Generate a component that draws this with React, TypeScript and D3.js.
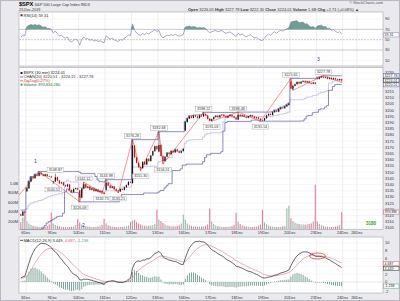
import React, { useMemo } from "react";
import * as d3 from "d3";

// ---------------- DATA ----------------
// bar index -3..-1 = last bars of 5-Dec, 0..155 = 6-Dec .. 23-Dec (13 x 30-min bars per session)
const FIRST_BAR = -3;
const PRE_CLOSE = 3116.0;
const CLOSES: number[] = [
  3115.0, 3118.2, 3117.4,
  3137.0, 3142.5, 3146.0, 3145.2, 3148.0, 3147.1, 3149.5, 3148.2, 3147.0, 3148.3, 3146.8, 3146.6, 3145.9,
  3142.5, 3146.0, 3143.2, 3141.0, 3141.8, 3139.5, 3138.6, 3140.1, 3135.5, 3134.0, 3136.5, 3137.2, 3135.96,
  3129.5, 3136.8, 3140.3, 3137.6, 3138.4, 3135.9, 3137.0, 3134.8, 3136.1, 3134.2, 3135.0, 3133.6, 3132.52,
  3141.5, 3139.2, 3137.4, 3138.5, 3136.3, 3135.1, 3134.5, 3136.4, 3135.8, 3137.9, 3139.6, 3142.2, 3141.63,
  3171.5, 3162.0, 3157.5, 3154.0, 3153.2, 3158.4, 3156.2, 3160.8, 3159.0, 3163.5, 3167.0, 3171.0, 3168.57,
  3172.0, 3163.0, 3159.0, 3162.5, 3165.8, 3164.6, 3167.2, 3166.0, 3168.4, 3166.9, 3165.7, 3167.0, 3168.8,
  3190.5, 3193.2, 3195.0, 3193.8, 3195.6, 3194.9, 3193.7, 3195.8, 3195.1, 3196.9, 3195.8, 3193.0, 3191.45,
  3192.8, 3194.5, 3195.6, 3194.3, 3195.9, 3196.4, 3195.2, 3194.1, 3195.3, 3196.2, 3195.0, 3194.0, 3192.52,
  3196.3, 3195.2, 3196.0, 3194.7, 3193.9, 3195.1, 3196.0, 3194.8, 3193.6, 3194.2, 3193.1, 3192.0, 3191.8,
  3193.5, 3195.8, 3197.0, 3196.2, 3198.4, 3199.7, 3198.8, 3200.9, 3202.0, 3201.6, 3203.0, 3204.2, 3205.37,
  3217.4, 3219.6, 3221.0, 3222.8, 3221.5, 3222.9, 3223.6, 3222.4, 3223.3, 3222.0, 3221.4, 3222.3, 3221.22,
  3225.3, 3226.4, 3227.0, 3226.2, 3226.6, 3225.4, 3226.1, 3225.0, 3225.8, 3224.9, 3224.3, 3225.0, 3224.01,
];
// session opening prices (gaps)
const OPEN_IDX = [-3, 0, 13, 26, 39, 52, 65, 78, 130, 143];
const OPEN_VAL = [3116.0, 3134.62, 3141.86, 3135.36, 3135.75, 3141.23, 3166.65, 3183.63, 3223.0, 3226.05];
// volume, millions
const VOLUMES: number[] = [
  180, 280, 400,
  200, 150, 120, 100, 90, 85, 80, 75, 80, 85, 95, 130, 380,
  150, 120, 100, 90, 80, 75, 70, 70, 75, 80, 90, 120, 245,
  170, 130, 100, 90, 85, 80, 75, 75, 80, 85, 95, 120, 250,
  150, 110, 95, 85, 80, 75, 70, 75, 80, 85, 90, 110, 180,
  210, 230, 180, 150, 130, 110, 100, 95, 100, 105, 115, 140, 440,
  230, 200, 160, 130, 110, 100, 95, 90, 95, 100, 110, 150, 340,
  230, 150, 120, 100, 90, 85, 80, 80, 85, 90, 100, 130, 470,
  190, 140, 110, 95, 85, 80, 75, 75, 80, 85, 95, 120, 380,
  190, 140, 110, 95, 85, 80, 75, 75, 80, 85, 95, 125, 440,
  170, 130, 105, 90, 85, 80, 75, 75, 80, 90, 100, 470, 530,
  260, 200, 170, 150, 140, 130, 130, 125, 130, 140, 150, 190, 980,
  190, 140, 110, 95, 85, 80, 75, 75, 80, 85, 95, 120, 394,
];
// 17 bars before the window (index -20..-4), used only by the price channel
const PRE_HIGHS = [3110, 3112, 3113, 3114, 3119.4, 3118, 3114, 3110, 3108, 3109, 3111, 3113, 3114, 3115, 3116, 3117, 3118];
const PRE_LOWS = [3106, 3108, 3110, 3111, 3113, 3112, 3108, 3104, 3103.76, 3105, 3107, 3109, 3110, 3111, 3112, 3113, 3114];
// swing points (ZigZag 0.27%) and price labels
const PIV_IDX = [-14, 6, 13, 14, 26, 28, 37, 39, 45, 52, 56, 65, 67, 87, 91, 104, 115, 130, 131, 146, 155];
const PIV_PRICE = [3112, 3150.6, 3140.52, 3148.87, 3126.09, 3142.12, 3132.75, 3143.98, 3133.21, 3176.28, 3151.3, 3182.68, 3156.51, 3198.22, 3191.03, 3198.48, 3191.14, 3225.65, 3216.03, 3227.78, 3222.3];
const PIV_TYPE = ["L", "H", "L", "H", "L", "H", "L", "H", "L", "H", "L", "H", "L", "H", "L", "H", "L", "H", "L", "H", "L"];
const PIV_ZIGZAG = [1, 1, 0, 0, 1, 1, 1, 1, 1, 1, 1, 1, 1, 1, 1, 1, 1, 1, 1, 1, 1];
const PIV_LABEL = [0, 0, 1, 1, 1, 1, 1, 1, 1, 1, 1, 1, 1, 1, 1, 1, 1, 1, 0, 1, 0];
const DAY_LABELS = ["6Dec", "9Dec", "10Dec", "11Dec", "12Dec", "13Dec", "16Dec", "17Dec", "18Dec", "19Dec", "20Dec", "23Dec", "24Dec", "26Dec"];
const DAY_START = [0, 13, 26, 39, 52, 65, 78, 91, 104, 117, 130, 143, 156, 163];
const PRICE_TICKS = [3105, 3110, 3115, 3120, 3125, 3130, 3135, 3140, 3145, 3150, 3155, 3160, 3165, 3170, 3175, 3180, 3185, 3190, 3195, 3200, 3205, 3210, 3215, 3230];
const PRICE_GRID = d3.range(3105, 3231, 5);
const VOL_TICKS = [200, 400, 600, 800, 1000];
const VOL_TICK_LABELS = ["200M", "400M", "600M", "800M", "1.0B"];
const RSI_TICKS = [10, 30, 50, 70, 90];
const MACD_TICKS = [-2, 0, 2, 6, 8, 10];
const MACD_GRID = [-2, 0, 2, 4, 6, 8, 10];
const WAVE_TEXT = ["1", "2", "3"];
const WAVE_X = [35.5, 83.5, 318.5];
const WAVE_Y = [162.5, 227, 61];
// indicator state carried in from before the window
const RSI_SEED_GAIN = 1.3;
const RSI_SEED_LOSS = 1.0;
const EMA12_SEED = 3113.5;
const EMA26_SEED = 3112.5;
const SIGNAL_SEED = 0.9;
const WICK = 0.5;

// ---------------- LAYOUT ----------------
const PL = 19, PR = 383;
const RSI_T = 12, RSI_B = 66;
const MAIN_T = 67.5, MAIN_B = 229.5;
const MACD_T = 237, MACD_B = 293;
const FONT = '"Liberation Sans", Arial, sans-serif';

export default function App() {
  const d = useMemo(() => {
    const bars = CLOSES.map((c, k) => {
      const i = k + FIRST_BAR;
      const oi = OPEN_IDX.indexOf(i);
      const o = oi >= 0 ? OPEN_VAL[oi] : k === 0 ? PRE_CLOSE : CLOSES[k - 1];
      let h = Math.max(o, c) + WICK;
      let l = Math.min(o, c) - WICK;
      PIV_IDX.forEach((pi, j) => {
        if (pi === i) {
          if (PIV_TYPE[j] === "H") h = PIV_PRICE[j];
          else l = PIV_PRICE[j];
        }
      });
      return { i, o, c, h, l, v: VOLUMES[k] };
    });
    // price channel (20)
    const allH = [...PRE_HIGHS, ...bars.map((b) => b.h)];
    const allL = [...PRE_LOWS, ...bars.map((b) => b.l)];
    const off = PRE_HIGHS.length;
    const chan = bars.map((b, k) => {
      const a = k + off - 19, e = k + off + 1;
      const up = d3.max(allH.slice(Math.max(0, a), e)) as number;
      const lo = d3.min(allL.slice(Math.max(0, a), e)) as number;
      return { i: b.i, up, lo, mid: (up + lo) / 2 };
    });
    // RSI(14)
    let prev = PRE_CLOSE, ag = RSI_SEED_GAIN, al = RSI_SEED_LOSS;
    const rsi = bars.map((b) => {
      const ch = b.c - prev;
      prev = b.c;
      ag = (ag * 13 + Math.max(ch, 0)) / 14;
      al = (al * 13 + Math.max(-ch, 0)) / 14;
      return { i: b.i, v: 100 - 100 / (1 + ag / al) };
    });
    // MACD(12,26,9)
    let e12 = EMA12_SEED, e26 = EMA26_SEED, sg = SIGNAL_SEED;
    const macd = bars.map((b) => {
      e12 += (b.c - e12) * (2 / 13);
      e26 += (b.c - e26) * (2 / 27);
      const m = e12 - e26;
      sg += (m - sg) * 0.2;
      return { i: b.i, m, s: sg, h: m - sg };
    });
    return { bars, chan, rsi, macd };
  }, []);

  const xb = d3.scaleLinear().domain([0, 13]).range([25.9, 52.3]);
  const cx = (i: number) => xb(i + 0.5);
  const y = d3.scaleLinear().domain([3105, 3230]).range([228, 73]);
  const yv = d3.scaleLinear().domain([0, 1000]).range([230.5, 183.7]);
  const yr = d3.scaleLinear().domain([0, 100]).range([65.5, 13.9]);
  const ym = d3.scaleLinear().domain([0, 10]).range([282, 242.8]);

  const chanLine = (key: "up" | "lo" | "mid") =>
    d3.line<any>().x((p) => cx(p.i)).y((p) => y(p[key])).curve(d3.curveStep)(d.chan) || "";
  const zz = PIV_IDX.map((i, j) => ({ i, p: PIV_PRICE[j], z: PIV_ZIGZAG[j] })).filter((p) => p.z);
  const zzPath = d3.line<any>().x((p) => cx(p.i)).y((p) => y(p.p))(zz) || "";
  const rsiPath = d3.line<any>().x((p) => cx(p.i)).y((p) => yr(p.v))(d.rsi) || "";
  const rsiHi = d3.area<any>().x((p) => cx(p.i)).y0(yr(70)).y1((p) => yr(Math.max(70, p.v)))(d.rsi) || "";
  const rsiLo = d3.area<any>().x((p) => cx(p.i)).y0(yr(30)).y1((p) => yr(Math.min(30, p.v)))(d.rsi) || "";
  const macdPath = d3.line<any>().x((p) => cx(p.i)).y((p) => ym(p.m))(d.macd) || "";
  const sigPath = d3.line<any>().x((p) => cx(p.i)).y((p) => ym(p.s))(d.macd) || "";

  const dayX = DAY_START.map((s) => xb(s));
  const fs = 4;

  const box = (yy: number, text: string, color: string, key: string) => (
    <g key={key}>
      <rect x={383.5} y={yy - 2.1} width={15.5} height={4.2} fill="#fff" stroke={color} strokeWidth={0.5} />
      <text x={384.4} y={yy + 1.3} fontSize={3.6} fill="#222">{text}</text>
    </g>
  );

  return (
    <div style={{ position: "fixed", left: 0, top: 0, width: 400, height: 301 }}>
      <svg width={400} height={301} style={{ display: "block", fontFamily: FONT }}>
        <defs>
          <clipPath id="cRsi"><rect x={PL} y={RSI_T} width={PR - PL} height={RSI_B - RSI_T} /></clipPath>
          <clipPath id="cMain"><rect x={PL} y={MAIN_T} width={PR - PL} height={MAIN_B - MAIN_T} /></clipPath>
          <clipPath id="cMacd"><rect x={PL} y={MACD_T} width={PR - PL} height={MACD_B - MACD_T} /></clipPath>
        </defs>
        <rect x={0} y={0} width={400} height={301} fill="#e9e9ee" />
        <rect x={0.5} y={0.5} width={399} height={300} fill="none" stroke="#b8b8c0" />

        {/* header */}
        <text x={19} y={6} fontSize={5.6} fontWeight="bold" fill="#000">$SPX</text>
        <text x={34.5} y={5.6} fontSize={3.9} fill="#333">S&amp;P 500 Large Cap Index INDX</text>
        <text x={19} y={11} fontSize={3.7} fill="#333">23-Dec-2019</text>
        <text x={383} y={4.4} fontSize={3.9} fill="#555" textAnchor="end">© StockCharts.com</text>
        <text x={188} y={10.6} fontSize={4} fill="#333">
          <tspan fontWeight="bold">Open</tspan> 3226.05 <tspan fontWeight="bold">High</tspan> 3227.78{" "}
          <tspan fontWeight="bold">Low</tspan> 3222.30 <tspan fontWeight="bold">Close</tspan> 3224.01{" "}
          <tspan fontWeight="bold">Volume</tspan> 1.6B <tspan fontWeight="bold">Chg</tspan> +2.71 (+0.08%) ▲
        </text>

        {/* panels */}
        {[[RSI_T, RSI_B], [MAIN_T, MAIN_B], [MACD_T, MACD_B]].map(([t, b], k) => (
          <rect key={k} x={PL} y={t} width={PR - PL} height={b - t} fill="#fff" stroke="#a4a4ac" strokeWidth={0.6} />
        ))}

        {/* vertical day grid */}
        {dayX.map((xx, k) =>
          xx < PR ? (
            <g key={"g" + k} stroke="#dcdce4" strokeWidth={0.5}>
              <line x1={xx} x2={xx} y1={RSI_T} y2={RSI_B} />
              <line x1={xx} x2={xx} y1={MAIN_T} y2={MAIN_B} />
              <line x1={xx} x2={xx} y1={MACD_T} y2={MACD_B} />
            </g>
          ) : null
        )}

        {/* ---------- RSI ---------- */}
        {RSI_TICKS.map((t) => (
          <g key={"rt" + t}>
            {t === 70 || t === 30 ? (
              <line x1={PL} x2={PR} y1={yr(t)} y2={yr(t)} stroke="#a8a8a8" strokeWidth={0.6} />
            ) : t === 50 ? (
              <line x1={PL} x2={PR} y1={yr(t)} y2={yr(t)} stroke="#999" strokeWidth={0.5} strokeDasharray="2,1" />
            ) : (
              <line x1={PL} x2={PR} y1={yr(t)} y2={yr(t)} stroke="#eee" strokeWidth={0.5} />
            )}
            <text x={385} y={yr(t) + 1.4} fontSize={fs} fill="#333">{t}</text>
          </g>
        ))}
        <g clipPath="url(#cRsi)">
          <path d={rsiHi} fill="#6f9f8f" />
          <path d={rsiLo} fill="#6f9f8f" />
          <path d={rsiPath} fill="none" stroke="#8383b3" strokeWidth={0.7} />
        </g>
        <rect x={20.5} y={14.3} width={2} height={2} fill="#333" />
        <text x={23.5} y={16.5} fontSize={fs} fill="#222">RSI(14) 59.31</text>
        {box(yr(59.31), "59.31", "#8383b3", "rbox")}

        {/* ---------- MAIN ---------- */}
        {PRICE_GRID.map((t) => (
          <line key={"pg" + t} x1={PL} x2={PR} y1={y(t)} y2={y(t)} stroke="#ececf0" strokeWidth={0.5} />
        ))}
        {PRICE_TICKS.map((t) => (
          <text key={"pt" + t} x={385} y={y(t) + 1.4} fontSize={fs} fill="#333">{t}</text>
        ))}
        {VOL_TICKS.map((t, k) => (
          <text key={"vt" + t} x={18} y={yv(t) + 1.4} fontSize={fs} fill="#333" textAnchor="end">{VOL_TICK_LABELS[k]}</text>
        ))}
        <g clipPath="url(#cMain)">
          {d.bars.map((b) => (
            <rect key={"v" + b.i} x={cx(b.i) - 0.55} width={1.1} y={yv(b.v)} height={yv(0) - yv(b.v)}
              fill={b.c >= b.o ? "#95b9a0" : "#e27c9c"} />
          ))}
          <path d={chanLine("mid")} fill="none" stroke="#b4b4e2" strokeWidth={0.7} />
          <path d={chanLine("up")} fill="none" stroke="#5757a8" strokeWidth={0.7} />
          <path d={chanLine("lo")} fill="none" stroke="#5757a8" strokeWidth={0.7} />
          <path d={zzPath} fill="none" stroke="#ff4b4b" strokeWidth={0.6} />
          {d.bars.map((b) => {
            const col = b.c >= b.o ? "#111" : "#e00000";
            const top = y(Math.max(b.o, b.c)), bot = y(Math.min(b.o, b.c));
            return (
              <g key={"b" + b.i}>
                <line x1={cx(b.i)} x2={cx(b.i)} y1={y(b.h)} y2={y(b.l)} stroke={col} strokeWidth={0.5} />
                <rect x={cx(b.i) - 0.6} width={1.2} y={top} height={Math.max(0.5, bot - top)} fill={col} />
              </g>
            );
          })}
          {PIV_IDX.map((i, j) => {
            if (!PIV_LABEL[j]) return null;
            const above = PIV_TYPE[j] === "H";
            const yy = y(PIV_PRICE[j]) + (above ? -3.6 : 5.6);
            const t = PIV_PRICE[j].toFixed(2);
            return (
              <g key={"pl" + j}>
                <rect x={cx(i) - 8.3} y={yy - 2.3} width={16.6} height={4.6} fill="#fff" stroke="#9a9a9a" strokeWidth={0.4} />
                <text x={cx(i)} y={yy + 1.3} fontSize={3.7} textAnchor="middle" fill="#333">{t}</text>
              </g>
            );
          })}
        </g>
        <rect x={20.5} y={72} width={2} height={2} fill="#222" />
        <text x={23.5} y={74.3} fontSize={fs} fill="#222">$SPX (30 min) 3224.01</text>
        <line x1={20} x2={23} y1={77} y2={77} stroke="#5757a8" strokeWidth={0.8} />
        <text x={23.5} y={78.2} fontSize={fs} fill="#333">CHAN(20) 3220.51 - 3224.15 - 3227.78</text>
        <line x1={20} x2={23} y1={80.8} y2={80.8} stroke="#ff4b4b" strokeWidth={0.8} />
        <text x={23.5} y={82} fontSize={fs} fill="#e03030">ZigZag(0.27%)</text>
        <rect x={20.5} y={83.6} width={2} height={2} fill="#5a9a5a" />
        <text x={23.5} y={85.8} fontSize={fs} fill="#2a7a2a">Volume 393,834,280</text>
        {box(y(3227.78), "3227.78", "#5757a8", "b1")}
        {box(y(3220.51), "3220.51", "#5757a8", "b3")}
        {box(y(3224.01), "3224.01", "#111", "b2")}
        {box(yv(394), "393.8M", "#c06080", "b4")}
        <text x={371} y={224.5} fontSize={4.6} fontWeight="bold" fill="#2e9e2e" textAnchor="middle">3180</text>
        {WAVE_TEXT.map((t, k) => (
          <text key={"w" + k} x={WAVE_X[k]} y={WAVE_Y[k]} fontSize={5} fill="#2233ee" textAnchor="middle">{t}</text>
        ))}

        {/* date labels */}
        {dayX.map((xx, k) =>
          xx < PR ? (
            <g key={"dl" + k}>
              <text x={xx} y={233.8} fontSize={fs} fill="#333" textAnchor="middle">{DAY_LABELS[k]}</text>
              <text x={xx} y={298.8} fontSize={fs} fill="#333" textAnchor="middle">{DAY_LABELS[k]}</text>
            </g>
          ) : null
        )}

        {/* ---------- MACD ---------- */}
        {MACD_GRID.map((t) => (
          <line key={"mg" + t} x1={PL} x2={PR} y1={ym(t)} y2={ym(t)} stroke={t === 0 ? "#cfcfd6" : "#eeeef2"} strokeWidth={0.5} />
        ))}
        {MACD_TICKS.map((t) => (
          <text key={"mt" + t} x={385} y={t === -2 ? 292.6 : ym(t) + 1.4} fontSize={t === -2 ? 3.5 : fs} fill="#333">{t}</text>
        ))}
        <g clipPath="url(#cMacd)">
          {d.macd.map((p) => (
            <rect key={"h" + p.i} x={cx(p.i) - 0.45} width={0.9} y={Math.min(ym(0), ym(p.h))}
              height={Math.abs(ym(p.h) - ym(0))} fill="#6e9e8c" />
          ))}
          <path d={sigPath} fill="none" stroke="#d98898" strokeWidth={0.7} />
          <path d={macdPath} fill="none" stroke="#222" strokeWidth={0.7} />
        </g>
        <ellipse cx={317.5} cy={256} rx={8} ry={3} fill="none" stroke="#ee2222" strokeWidth={0.7} />
        <line x1={20} x2={23} y1={240.3} y2={240.3} stroke="#222" strokeWidth={0.8} />
        <text x={23.5} y={241.6} fontSize={fs} fill="#222">
          MACD(12,26,9) 3.449, <tspan fill="#d06070">4.687</tspan>, <tspan fill="#5f9a86">-1.238</tspan>
        </text>
        {box(ym(4.687), "4.687", "#d06070", "m1")}
        {box(ym(3.449), "3.449", "#222", "m2")}
        {box(ym(-1.238) - 0.8, "-1.238", "#5f9a86", "m3")}
      </svg>
    </div>
  );
}
